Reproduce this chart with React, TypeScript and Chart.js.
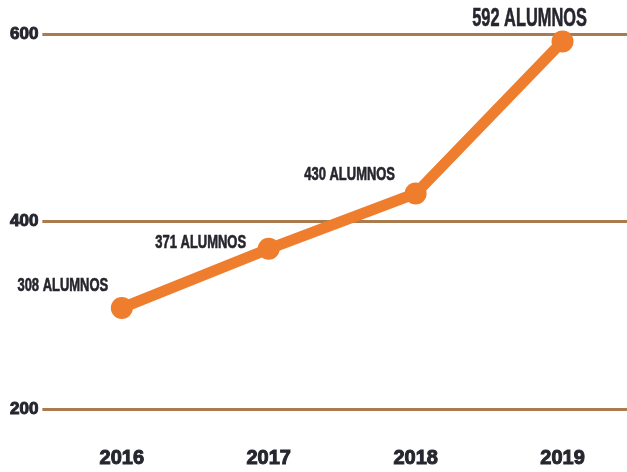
import React, { useEffect, useRef } from "react";
import { Chart, registerables } from "chart.js";

Chart.register(...registerables);

const years = ["2016", "2017", "2018", "2019"];
const students = [308, 371, 430, 592];
const pointLabels = ["308 ALUMNOS", "371 ALUMNOS", "430 ALUMNOS", "592 ALUMNOS"];
const yTicks = [200, 400, 600];

const ORANGE = "#EE7E2E";
const GRID = "#A97B4E";
const TEXT = "#26262E";

// label placement relative to each point (style only)
const labelDx = [-59, -68, -66, -33];
const labelDy = [-22, -6, -18, -23];
const labelSize = [18, 18, 18, 26];
const labelScaleX = [0.72, 0.72, 0.72, 0.63];

const labelPlugin = {
  id: "pointLabels",
  afterDatasetsDraw(chart: any) {
    const ctx = chart.ctx;
    const meta = chart.getDatasetMeta(0);
    meta.data.forEach((pt: any, i: number) => {
      ctx.save();
      ctx.fillStyle = TEXT;
      ctx.strokeStyle = TEXT;
      ctx.lineWidth = 0.6;
      ctx.textAlign = "center";
      ctx.textBaseline = "middle";
      ctx.font = `bold ${labelSize[i]}px "Liberation Sans", Arial, sans-serif`;
      ctx.translate(pt.x + labelDx[i], pt.y + labelDy[i]);
      ctx.scale(labelScaleX[i], 1);
      ctx.fillText(pointLabels[i], 0, 0);
      ctx.strokeText(pointLabels[i], 0, 0);
      ctx.restore();
    });
  },
};

export default function App() {
  const ref = useRef<HTMLCanvasElement | null>(null);
  useEffect(() => {
    document.body.style.margin = "0";
    const chart = new Chart(ref.current as HTMLCanvasElement, {
      type: "line",
      data: {
        labels: years,
        datasets: [
          {
            data: students,
            borderColor: ORANGE,
            backgroundColor: ORANGE,
            borderWidth: 11,
            pointRadius: 11,
            pointHoverRadius: 11,
            pointBackgroundColor: ORANGE,
            pointBorderWidth: 0,
            tension: 0,
            clip: false,
          },
        ],
      },
      options: {
        animation: false,
        responsive: true,
        maintainAspectRatio: false,
        layout: { autoPadding: false, padding: { top: 34, right: 0, left: 6, bottom: 2 } },
        plugins: { legend: { display: false }, tooltip: { enabled: false } },
        scales: {
          x: {
            offset: true,
            grid: { display: false, drawTicks: false },
            border: { display: false },
            afterFit: (scale: any) => {
              scale.height = 42;
            },
            ticks: {
              color: TEXT,
              padding: 18,
              textStrokeColor: TEXT,
              textStrokeWidth: 1,
              font: { family: '"Liberation Sans", Arial, sans-serif', weight: "bold", size: 20 },
            },
          },
          y: {
            min: 180,
            max: 600,
            afterBuildTicks: (scale: any) => {
              scale.ticks = yTicks.map((v) => ({ value: v }));
            },
            grid: {
              color: GRID,
              lineWidth: 3,
              drawTicks: true,
              tickLength: 6,
            },
            border: { display: false },
            ticks: {
              color: TEXT,
              padding: 4,
              textStrokeColor: TEXT,
              textStrokeWidth: 1,
              font: { family: '"Liberation Sans", Arial, sans-serif', weight: "bold", size: 17 },
            },
          },
        },
      },
      plugins: [labelPlugin],
    });
    return () => chart.destroy();
  }, []);
  return (
    <div style={{ width: 627, height: 472, overflow: "hidden", background: "#fff" }}>
      <div style={{ width: 636, height: 472, position: "relative" }}>
        <canvas ref={ref} />
      </div>
    </div>
  );
}
